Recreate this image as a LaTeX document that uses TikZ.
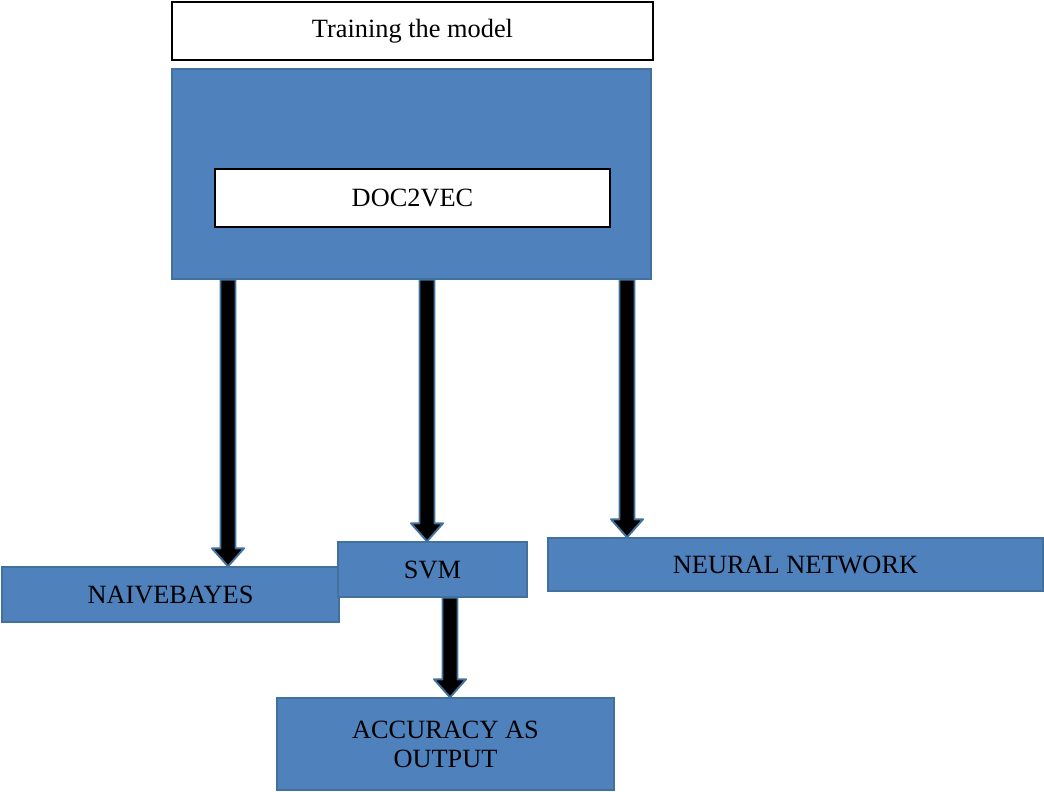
\documentclass[tikz,border=0pt]{standalone}
\usepackage{fontspec}
\setmainfont{Liberation Serif}
\usetikzlibrary{calc}

\definecolor{boxblue}{HTML}{4F81BD}
\definecolor{edgeblue}{HTML}{41719C}

\tikzset{
  whitebox/.style={draw=black, line width=0.9pt, fill=white, align=center,
    inner sep=0pt},
  bluebox/.style={draw=edgeblue, line width=0.8pt, fill=boxblue, align=center,
    inner sep=0pt},
  arrowbody/.style={fill=black, draw=edgeblue, line width=1.1pt,
    line join=round}
}

% block arrow, straight down from #1 to #2
\newcommand{\blockarrow}[2]{%
  \draw [arrowbody] let \p1 = #1, \p2 = #2 in
    (\x1-0.15cm, \y1) -- (\x1-0.15cm, \y2+0.36cm) -- (\x1-0.32cm, \y2+0.36cm)
    -- (\x1, \y2) -- (\x1+0.32cm, \y2+0.36cm) -- (\x1+0.15cm, \y2+0.36cm)
    -- (\x1+0.15cm, \y1) -- cycle;}

\begin{document}
\begin{tikzpicture}[font=\fontsize{15}{16.5}\selectfont]
  \useasboundingbox (0, 0) rectangle (20.88, 15.82);

  % Training
  \node [whitebox, minimum width=9.62cm, minimum height=1.16cm] (train)
        at (8.25, 15.2) {Training the model};

  % Model with doc2vec
  \node [bluebox, minimum width=9.58cm, minimum height=4.2cm] (model)
        at (8.23, 12.34) {};
  \node [whitebox, minimum width=7.9cm, minimum height=1.16cm] (doc)
        at (8.25, 11.86) {DOC2VEC};

  % Classifiers
  \node [bluebox, minimum width=6.74cm, minimum height=1.1cm] (naive)
        at (3.41, 3.93) {NAIVEBAYES};
  \node [bluebox, minimum width=3.78cm, minimum height=1.1cm] (svm)
        at (8.65, 4.43) {SVM};
  \node [bluebox, minimum width=9.9cm, minimum height=1.06cm] (neural)
        at (15.91, 4.53) {NEURAL NETWORK};

  % Output
  \node [bluebox, minimum width=6.74cm, minimum height=1.84cm] (acc)
        at (8.91, 0.94) {ACCURACY AS\\OUTPUT};

  % Edges
  \coordinate (col1) at (4.56, 0);
  \coordinate (col2) at (8.54, 0);
  \coordinate (col3) at (12.54, 0);
  \coordinate (col4) at (9.0, 0);
  \blockarrow{(model.south -| col1)}{(naive.north -| col1)}
  \blockarrow{(model.south -| col2)}{(svm.north -| col2)}
  \blockarrow{(model.south -| col3)}{(neural.north -| col3)}
  \blockarrow{(svm.south -| col4)}{(acc.north -| col4)}
\end{tikzpicture}
\end{document}
